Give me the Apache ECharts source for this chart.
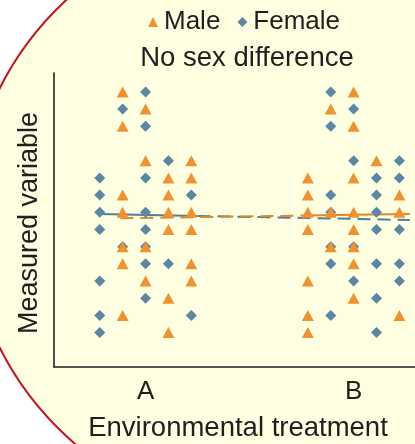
<!DOCTYPE html>
<html>
<head>
<meta charset="utf-8">
<style>
  html, body { margin: 0; padding: 0; background: #ffffff; }
  #chart { width: 415px; height: 444px; }
</style>
<script src="https://cdn.jsdelivr.net/npm/echarts@6/dist/echarts.min.js"></script>
</head>
<body>
<div id="chart"></div>
<script>
// Treatments on the x axis
const categories = ['A', 'B'];

// Measured values, one list per jitter column (5 columns per treatment)
const maleA   = [[], [15, 13, 9, 8, 6, 5, 2], [14, 11, 6, 4], [10, 9, 8, 7, 3, 1], [11, 10, 8, 7, 5, 4]];
const femaleA = [[10, 9, 8, 7, 4, 2, 1], [14, 6], [15, 13, 10, 8, 7, 6, 5, 3], [11, 5], [9, 2]];
const maleB   = [[10, 9, 8, 7, 4, 2, 1], [14, 8, 6], [15, 13, 10, 8, 7, 6, 5, 3], [11], [9, 8, 2]];
const femaleB = [[], [15, 13, 9, 8, 6, 5, 2], [14, 11, 6, 4], [10, 9, 8, 7, 5, 3, 1], [11, 10, 7, 5, 4]];

// Trend of each sex from treatment A to treatment B
const maleMeans   = [7.65, 7.9];
const femaleMeans = [7.9, 7.55];

const MALE_COLOR = '#f0922f';
const FEMALE_COLOR = '#5b86a4';
const MALE_LINE = '#e5842a';
const FEMALE_LINE = '#4e7f9d';
const TEXT = '#1f1f1f';
const FONT = 'Liberation Sans, Arial, sans-serif';

// Horizontal jitter of the five columns around each treatment
const colStep = 0.11;
function points(groups) {
  const out = [];
  groups.forEach((cols, g) => {
    cols.forEach((vals, c) => {
      vals.forEach(v => out.push([g + 1 + (c - 2) * colStep, v]));
    });
  });
  return out;
}

// Line endpoints and split point (solid part / dashed part)
function at(x0, y0, x1, y1, x) { return y0 + (y1 - y0) * (x - x0) / (x1 - x0); }
const fx0 = 1 - 2 * colStep, fx1 = 2 + 0.27, fSplit = 1 + 0.25;
const mx0 = 1 - 1.1 * colStep, mx1 = 2 + 0.27, mSplit = 2 - 0.25;
const fMid = at(fx0, femaleMeans[0], fx1, femaleMeans[1], fSplit);
const mMid = at(mx0, maleMeans[0], mx1, maleMeans[1], mSplit);

function lineSeries(data, color, type, z) {
  return {
    type: 'line', data, symbol: 'none', silent: true, z,
    lineStyle: { color, width: 2, type },
    animation: false
  };
}

const chart = echarts.init(document.getElementById('chart'), null, { renderer: 'canvas' });
chart.setOption({
  backgroundColor: '#ffffff',
  animation: false,
  graphic: [{
    type: 'ellipse',
    z: -10,
    silent: true,
    shape: { cx: 300, cy: 218, rx: 331, ry: 308 },
    style: { fill: '#fefee0', stroke: '#c3141e', lineWidth: 2 }
  }],
  title: {
    text: 'No sex difference',
    left: 242, top: 39,
    textAlign: 'center',
    textStyle: { fontFamily: FONT, fontSize: 27.5, fontWeight: 'normal', color: TEXT }
  },
  legend: {
    data: [
      { name: 'Male', icon: 'triangle' },
      { name: 'Female', icon: 'diamond' }
    ],
    left: 143, top: 4,
    itemWidth: 10, itemHeight: 10, itemGap: 17,
    textStyle: { fontFamily: FONT, fontSize: 26, color: TEXT, padding: [0, 0, 0, 1] }
  },
  grid: {
    left: 54, right: 0, top: 73, bottom: 77,
    containLabel: false, outerBoundsMode: 'none'
  },
  xAxis: {
    type: 'value', min: 0.56, max: 2.295,
    splitLine: { show: false },
    axisTick: { show: false },
    axisLine: { onZero: false, lineStyle: { color: '#222222', width: 1.6 } },
    axisLabel: {
      customValues: [1, 2],
      formatter: v => categories[Math.round(v) - 1],
      margin: 12, fontFamily: FONT, fontSize: 26, color: TEXT
    },
    name: 'Environmental treatment',
    nameLocation: 'middle', nameGap: 47,
    nameTextStyle: { fontFamily: FONT, fontSize: 27.5, color: TEXT, padding: [0, 0, 0, 7] }
  },
  yAxis: {
    type: 'value', min: -1, max: 16.1,
    splitLine: { show: false },
    axisTick: { show: false },
    axisLabel: { show: false },
    axisLine: { show: true, onZero: false, lineStyle: { color: '#222222', width: 1.6 } },
    name: 'Measured variable',
    nameLocation: 'middle', nameGap: 11, nameRotate: 90,
    nameTextStyle: { fontFamily: FONT, fontSize: 27, color: TEXT, padding: [0, 6, 0, 0] }
  },
  series: [
    lineSeries([[fx0, femaleMeans[0]], [fSplit, fMid]], FEMALE_LINE, 'solid', 2),
    lineSeries([[fSplit, fMid], [fx1, femaleMeans[1]]], FEMALE_LINE, [13, 7], 2),
    lineSeries([[mx0, maleMeans[0]], [mSplit, mMid]], MALE_LINE, [13, 7], 3),
    lineSeries([[mSplit, mMid], [mx1, maleMeans[1]]], MALE_LINE, 'solid', 3),
    {
      name: 'Female', type: 'scatter', z: 4,
      symbol: 'diamond', symbolSize: [11, 11],
      itemStyle: { color: FEMALE_COLOR, opacity: 1 },
      data: points([femaleA, femaleB])
    },
    {
      name: 'Male', type: 'scatter', z: 5,
      symbol: 'triangle', symbolSize: [12, 11],
      itemStyle: { color: MALE_COLOR, opacity: 1 },
      data: points([maleA, maleB])
    }
  ]
});
</script>
</body>
</html>
